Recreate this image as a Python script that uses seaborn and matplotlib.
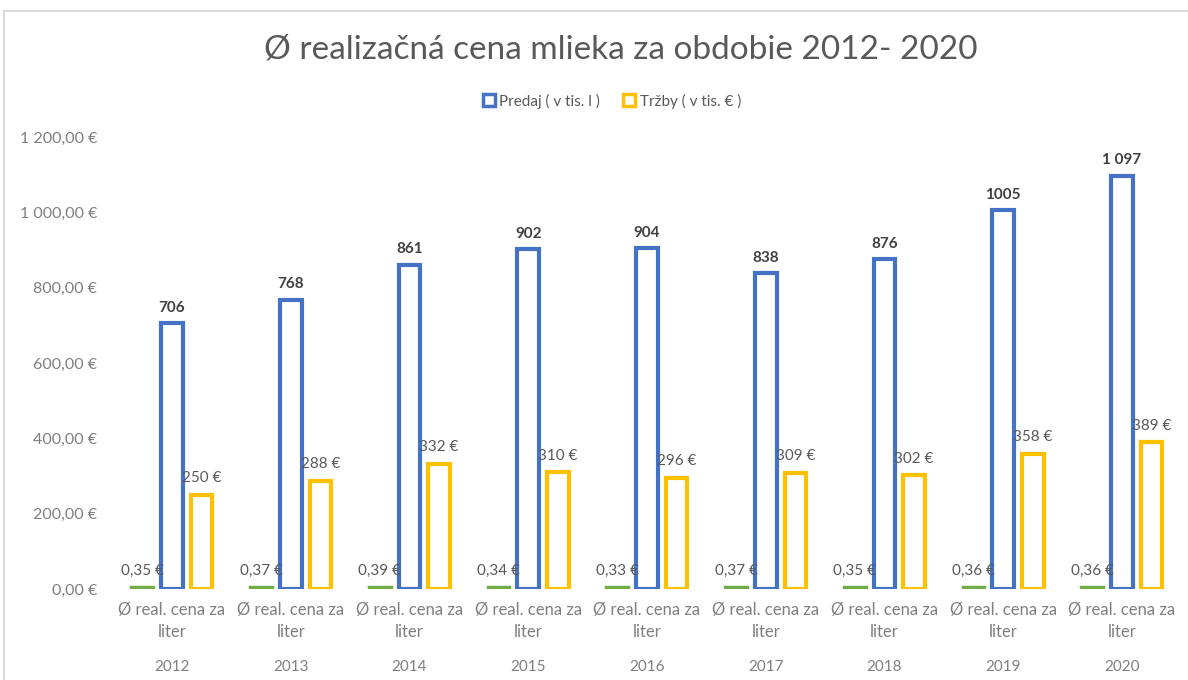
import matplotlib
matplotlib.use("Agg")
import matplotlib.pyplot as plt
import seaborn as sns
import pandas as pd
from matplotlib.patches import Patch
from matplotlib.lines import Line2D

years = ["2012", "2013", "2014", "2015", "2016", "2017", "2018", "2019", "2020"]
cena = [0.35, 0.37, 0.39, 0.34, 0.33, 0.37, 0.35, 0.36, 0.36]
predaj = [706, 768, 861, 902, 904, 838, 876, 1005, 1097]
trzby = [250, 288, 332, 310, 296, 309, 302, 358, 389]
cena_labels = ["0,35 €", "0,37 €", "0,39 €", "0,34 €", "0,33 €", "0,37 €", "0,35 €", "0,36 €", "0,36 €"]
predaj_labels = ["706", "768", "861", "902", "904", "838", "876", "1005", "1 097"]
trzby_labels = ["250 €", "288 €", "332 €", "310 €", "296 €", "309 €", "302 €", "358 €", "389 €"]
series = ["Ø real. cena za liter", "Predaj ( v tis. l )", "Tržby ( v tis. € )"]
yticks = [0, 200, 400, 600, 800, 1000, 1200]
ytick_labels = ["0,00 €", "200,00 €", "400,00 €", "600,00 €", "800,00 €", "1 000,00 €", "1 200,00 €"]

GREEN, BLUE, YELLOW = "#70AD47", "#4472C4", "#FFC000"
GRAY = "#7f7f7f"

sns.set_theme(style="white")
plt.rcParams["font.family"] = ["Lato", "DejaVu Sans"]

df = pd.DataFrame({
    "year": years * 3,
    "series": [series[0]] * 9 + [series[1]] * 9 + [series[2]] * 9,
    "value": cena + predaj + trzby,
})

W, H = 1188, 680
fig = plt.figure(figsize=(W / 100, H / 100), dpi=100)
ax = fig.add_axes([112.6 / W, 1 - 589 / H, 1068.75 / W, (589 - 137) / H])

sns.barplot(data=df, x="year", y="value", hue="series", hue_order=series,
            palette=[GREEN, BLUE, YELLOW], width=0.75, gap=0.27, ax=ax,
            legend=False, errorbar=None)

colors = [GREEN, BLUE, YELLOW]
for i, cont in enumerate(ax.containers):
    for p in cont.patches:
        if i == 0:
            p.set_facecolor(GREEN)
            p.set_edgecolor(GREEN)
            p.set_linewidth(2.5)
            # Excel shows the tiny value as a thin visible bar
            p.set_height(max(p.get_height(), 5))
            p.set_y(0)
        else:
            p.set_facecolor("white")
            p.set_edgecolor(colors[i])
            p.set_linewidth(3)

label_sets = [cena_labels, predaj_labels, trzby_labels]
for i, cont in enumerate(ax.containers):
    for p, lab in zip(cont.patches, label_sets[i]):
        xc = p.get_x() + p.get_width() / 2
        top = p.get_height() if i != 0 else 0
        if i == 1:
            ax.annotate(lab, (xc, top), xytext=(0, 6), textcoords="offset points",
                        ha="center", va="bottom", fontsize=11, fontweight="bold",
                        color="#404040")
        else:
            ax.annotate(lab, (xc, top), xytext=(0, 7 if i == 2 else 8), textcoords="offset points",
                        ha="center", va="bottom", fontsize=11, color="#595959")

ax.set_ylim(0, 1200)
ax.set_xlim(-0.5, 8.5)
ax.set_yticks(yticks)
ax.set_yticklabels(ytick_labels, fontsize=11.5, color=GRAY)
ax.tick_params(axis="y", length=0, pad=11)
ax.set_xticks(range(len(years)))
ax.set_xticklabels(["Ø real. cena za\nliter"] * len(years), fontsize=12, color=GRAY,
                   linespacing=1.5)
ax.tick_params(axis="x", length=0, pad=9)
for i, y in enumerate(years):
    ax.annotate(y, (i, 0), xytext=(0, -56), textcoords="offset points",
                ha="center", va="center", fontsize=11, color=GRAY,
                annotation_clip=False)
ax.set_xlabel("")
ax.set_ylabel("")
for s in ax.spines.values():
    s.set_visible(False)
ax.grid(False)

fig.text(621 / W, 1 - 50 / H, "Ø realizačná cena mlieka za obdobie 2012- 2020",
         ha="center", va="center", fontsize=24, color="#595959")

handles = [Patch(facecolor="white", edgecolor=BLUE, linewidth=2.5),
           Patch(facecolor="white", edgecolor=YELLOW, linewidth=2.5)]
fig.legend(handles, series[1:], loc="center", bbox_to_anchor=(612 / W, 1 - 101 / H),
           ncol=2, frameon=False, fontsize=11, handlelength=0.8, handleheight=0.8,
           handletextpad=0.3, columnspacing=1.5, labelcolor="#595959")

# chart frame
fig.add_artist(Line2D([4 / W, 1], [1 - 11 / H, 1 - 11 / H], transform=fig.transFigure,
                      color="#d9d9d9", linewidth=1.5))
fig.add_artist(Line2D([4 / W, 4 / W], [0, 1 - 11 / H], transform=fig.transFigure,
                      color="#d9d9d9", linewidth=1.5))

fig.savefig("out.png", dpi=100)
